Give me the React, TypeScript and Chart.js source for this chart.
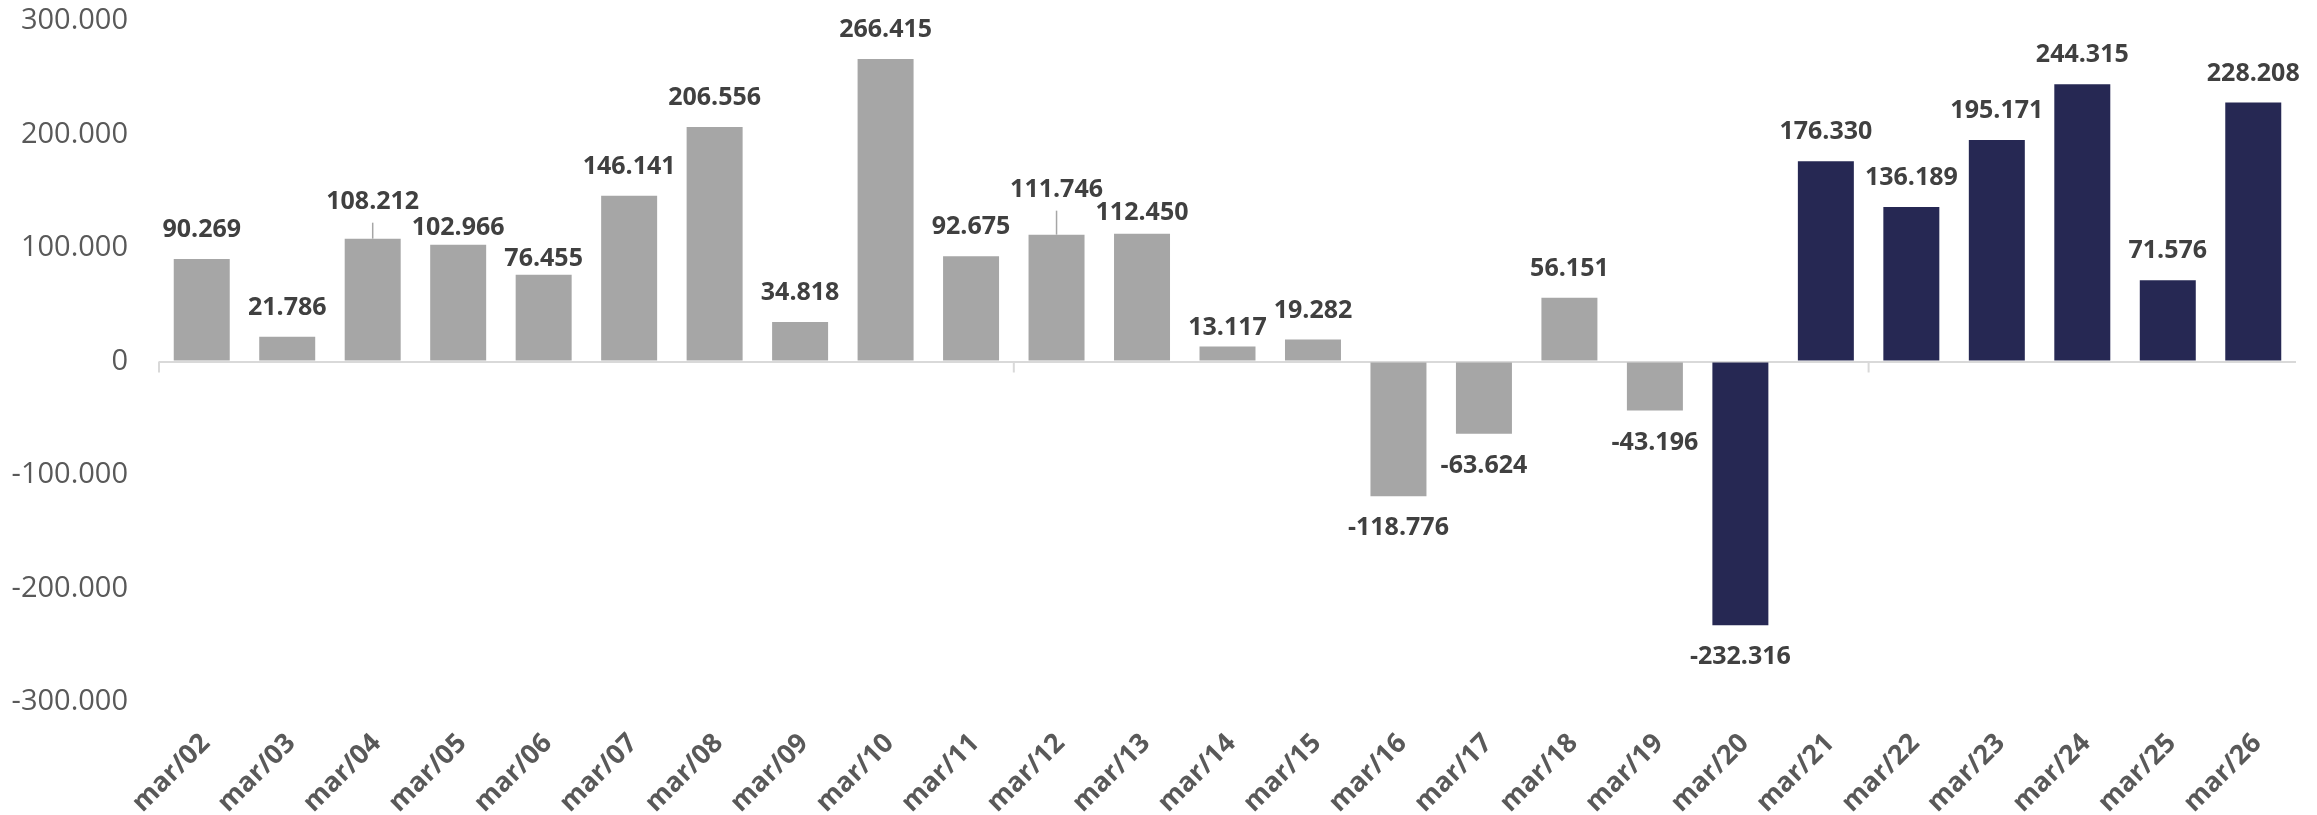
import React, { useEffect, useRef } from 'react';
import { Chart, registerables } from 'chart.js';

Chart.register(...registerables);

const categories = [
  'mar/02', 'mar/03', 'mar/04', 'mar/05', 'mar/06', 'mar/07', 'mar/08', 'mar/09', 'mar/10',
  'mar/11', 'mar/12', 'mar/13', 'mar/14', 'mar/15', 'mar/16', 'mar/17', 'mar/18', 'mar/19',
  'mar/20', 'mar/21', 'mar/22', 'mar/23', 'mar/24', 'mar/25', 'mar/26',
];

const values = [
  90269, 21786, 108212, 102966, 76455, 146141, 206556, 34818, 266415,
  92675, 111746, 112450, 13117, 19282, -118776, -63624, 56151, -43196,
  -232316, 176330, 136189, 195171, 244315, 71576, 228208,
];

// categories from this one onward are drawn in the highlight colour
const highlightFrom = 'mar/20';

const yMin = -300000;
const yMax = 300000;
const yStep = 100000;

// vertical nudges (px) of individual value labels, as placed in the original
const labelNudge = [
  0, 0, -8, 12, 13, 0, 0, 0, 0,
  0, -16, 8, 10, 0, 0, 0, 0, 0,
  0, 0, 0, 0, 0, 0, 0,
];
// labels connected to their bar by a leader line
const leaderLabels = ['mar/04', 'mar/12'];
const tickMarkInterval = 10;

const GRAY = '#a6a6a6';
const NAVY = '#262853';
const FONT = "'Open Sans', 'Noto Sans', sans-serif";

function fmt(v: number): string {
  const neg = v < 0;
  const s = Math.round(Math.abs(v)).toString().replace(/\B(?=(\d{3})+(?!\d))/g, '.');
  return (neg ? '-' : '') + s;
}

const valueLabelPlugin = {
  id: 'valueLabels',
  afterDatasetsDraw(chart: any) {
    const ctx = chart.ctx;
    const meta = chart.getDatasetMeta(0);
    ctx.save();
    ctx.font = `bold 25px ${FONT}`;
    ctx.fillStyle = '#404040';
    ctx.textAlign = 'center';
    ctx.textBaseline = 'middle';
    meta.data.forEach((el: any, i: number) => {
      const v = values[i];
      const x = el.x;
      const yEnd = el.y;
      let ty: number;
      if (v >= 0) ty = yEnd - 29 + labelNudge[i];
      else ty = yEnd + 32 + labelNudge[i];
      if (leaderLabels.includes(categories[i])) {
        ctx.save();
        ctx.strokeStyle = GRAY;
        ctx.lineWidth = 1.5;
        ctx.beginPath();
        ctx.moveTo(x, ty + 21);
        ctx.lineTo(x, yEnd);
        ctx.stroke();
        ctx.restore();
      }
      ctx.fillText(fmt(v), x, ty);
    });
    ctx.restore();
  },
};

// category labels, rotated 45 degrees, ending just right of each category centre
const categoryLabelPlugin = {
  id: 'categoryLabels',
  afterDraw(chart: any) {
    const xs = chart.scales.x;
    const ctx = chart.ctx;
    const top = chart.chartArea.bottom + 29;
    ctx.save();
    ctx.font = `bold 27px ${FONT}`;
    ctx.fillStyle = '#595959';
    ctx.textAlign = 'right';
    ctx.textBaseline = 'alphabetic';
    categories.forEach((c, i) => {
      const x = xs.getPixelForTick(i);
      ctx.save();
      ctx.translate(x - 4, top);
      ctx.rotate(-Math.PI / 4);
      ctx.fillText(c, 0, 19);
      ctx.restore();
    });
    ctx.restore();
  },
};

const tickMarkPlugin = {
  id: 'tickMarks',
  afterDraw(chart: any) {
    const xs = chart.scales.x;
    const ys = chart.scales.y;
    const ctx = chart.ctx;
    const y0 = ys.getPixelForValue(0);
    const w = (xs.right - xs.left) / categories.length;
    ctx.save();
    ctx.strokeStyle = '#d9d9d9';
    ctx.lineWidth = 2;
    for (let i = 0; i < categories.length; i += tickMarkInterval) {
      const x = xs.left + i * w;
      ctx.beginPath();
      ctx.moveTo(x, y0);
      ctx.lineTo(x, y0 + 11);
      ctx.stroke();
    }
    ctx.restore();
  },
};

export default function App() {
  const ref = useRef<HTMLCanvasElement>(null);
  useEffect(() => {
    const canvas = ref.current;
    if (!canvas) return;
    const hi = categories.indexOf(highlightFrom);
    const chart = new Chart(canvas, {
      type: 'bar',
      data: {
        labels: categories,
        datasets: [
          {
            data: values,
            backgroundColor: categories.map((_, i) => (i >= hi ? NAVY : GRAY)),
            barPercentage: 0.655,
            categoryPercentage: 1,
          },
        ],
      },
      options: {
        animation: false,
        responsive: false,
        maintainAspectRatio: false,
        layout: { autoPadding: false, padding: { top: 21, right: 21, left: 0, bottom: 0 } },
        plugins: { legend: { display: false }, tooltip: { enabled: false } },
        scales: {
          x: {
            grid: { display: false, drawTicks: false },
            border: { display: false },
            ticks: { display: false, autoSkip: false },
            afterFit: (s: any) => {
              s.height = 113;
              s.paddingLeft = 0;
              s.paddingRight = 0;
            },
          },
          y: {
            min: yMin,
            max: yMax,
            ticks: {
              stepSize: yStep,
              padding: 31,
              color: '#595959',
              font: { family: FONT, size: 29 },
              callback: (v: any) => fmt(Number(v)),
            },
            grid: {
              drawTicks: false,
              lineWidth: 2,
              color: (c: any) => (c.tick && c.tick.value === 0 ? '#d9d9d9' : 'rgba(0,0,0,0)'),
            },
            border: { display: false },
            afterFit: (s: any) => {
              s.width = 159;
              s.paddingTop = 0;
              s.paddingBottom = 0;
            },
          },
        },
      },
      plugins: [valueLabelPlugin, categoryLabelPlugin, tickMarkPlugin],
    } as any);
    return () => chart.destroy();
  }, []);
  return (
    <div style={{ position: 'fixed', left: 0, top: 0, width: 2317, height: 815, background: '#fff' }}>
      <canvas ref={ref} width={2317} height={815} style={{ width: 2317, height: 815, display: 'block' }} />
    </div>
  );
}
